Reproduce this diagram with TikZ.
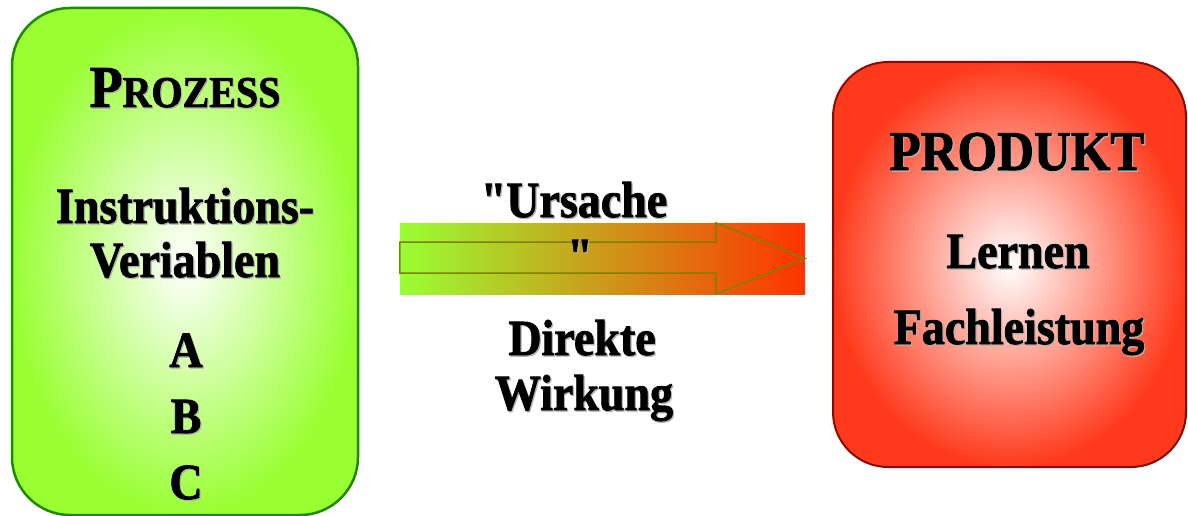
\documentclass[tikz,border=0pt]{standalone}
\usepackage{fontspec}
\setmainfont{Liberation Serif}[BoldFeatures={FakeBold=1.6}]
\usetikzlibrary{calc}
\definecolor{limeG}{HTML}{99FF33}
\definecolor{darkG}{HTML}{1E8A00}
\definecolor{redO}{HTML}{FF3A1C}
\definecolor{darkR}{HTML}{8B0A00}
\definecolor{midY}{HTML}{C8B82A}
\definecolor{bandR}{HTML}{FF3300}
\definecolor{olv}{HTML}{7F7F00}
\newcommand{\shtxt}[1]{\scalebox{1}[1.1]{\makebox[0pt][l]{\hspace{1.2pt}\raisebox{-1.2pt}{\textcolor{black!30}{#1}}}#1}}
\tikzset{
  gbox/.style={draw=darkG, line width=2.5pt, rounded corners=58pt, inner color=white, outer color=limeG, minimum width=346pt, minimum height=507pt, inner sep=0pt},
  rbox/.style={draw=darkR, line width=2pt, rounded corners=55pt, inner color=white, outer color=redO, minimum width=353pt, minimum height=405pt, inner sep=0pt},
  band/.style={left color=limeG, middle color=midY, right color=bandR, minimum width=405pt, minimum height=71pt, inner sep=0pt},
  arrowline/.style={draw=olv, line width=1.5pt, line join=miter},
  txt/.style={anchor=base, inner sep=0pt, font=\fontsize{46}{50}\selectfont\bfseries}
}
\begin{document}
\begin{tikzpicture}[x=1pt,y=-1pt]
\useasboundingbox (0,0) rectangle (1188,516);
% boxes
\node[gbox] (proc) at (185,261.5) {};
\node[rbox] (prod) at (1009.5,264.5) {};
% band arrow
\node[band] (band) at (602.5,258.5) {};
\draw[arrowline] ($(band.west)+(0,-16.5)$) -- ($(band.west)+(316,-16.5)$) -- ($(band.north west)+(316,0)$) -- (band.east) -- ($(band.south west)+(316,0)$) -- ($(band.west)+(316,14.5)$) -- ($(band.west)+(0,14.5)$) -- cycle;
% left texts
\node[txt] (prozess) at (185,107) {\shtxt{{\fontsize{54}{54}\selectfont P}{\fontsize{40}{40}\selectfont ROZESS}}};
\node[txt] (instr) at (185,223) {\shtxt{Instruktions-}};
\node[txt] (veri) at (185,277) {\shtxt{Veriablen}};
\node[txt] (a) at (186,367) {\shtxt{A}};
\node[txt] (b) at (186,433) {\shtxt{B}};
\node[txt] (c) at (186,499) {\shtxt{C}};
% middle texts
\node[txt] (urs) at (574,217) {\shtxt{\textquotedbl Ursache}};
\node[txt] (quote) at (580,273) {\shtxt{\textquotedbl}};
\node[txt] (dir) at (582,355) {\shtxt{Direkte}};
\node[txt] (wirk) at (584,410) {\shtxt{Wirkung}};
% right texts
\node[txt, font=\fontsize{51}{55}\selectfont\bfseries] (produkt) at (1017,170) {\shtxt{PRODUKT}};
\node[txt] (lern) at (1018,268) {\shtxt{Lernen}};
\node[txt] (fach) at (1019,344) {\shtxt{Fachleistung}};
\end{tikzpicture}
\end{document}
